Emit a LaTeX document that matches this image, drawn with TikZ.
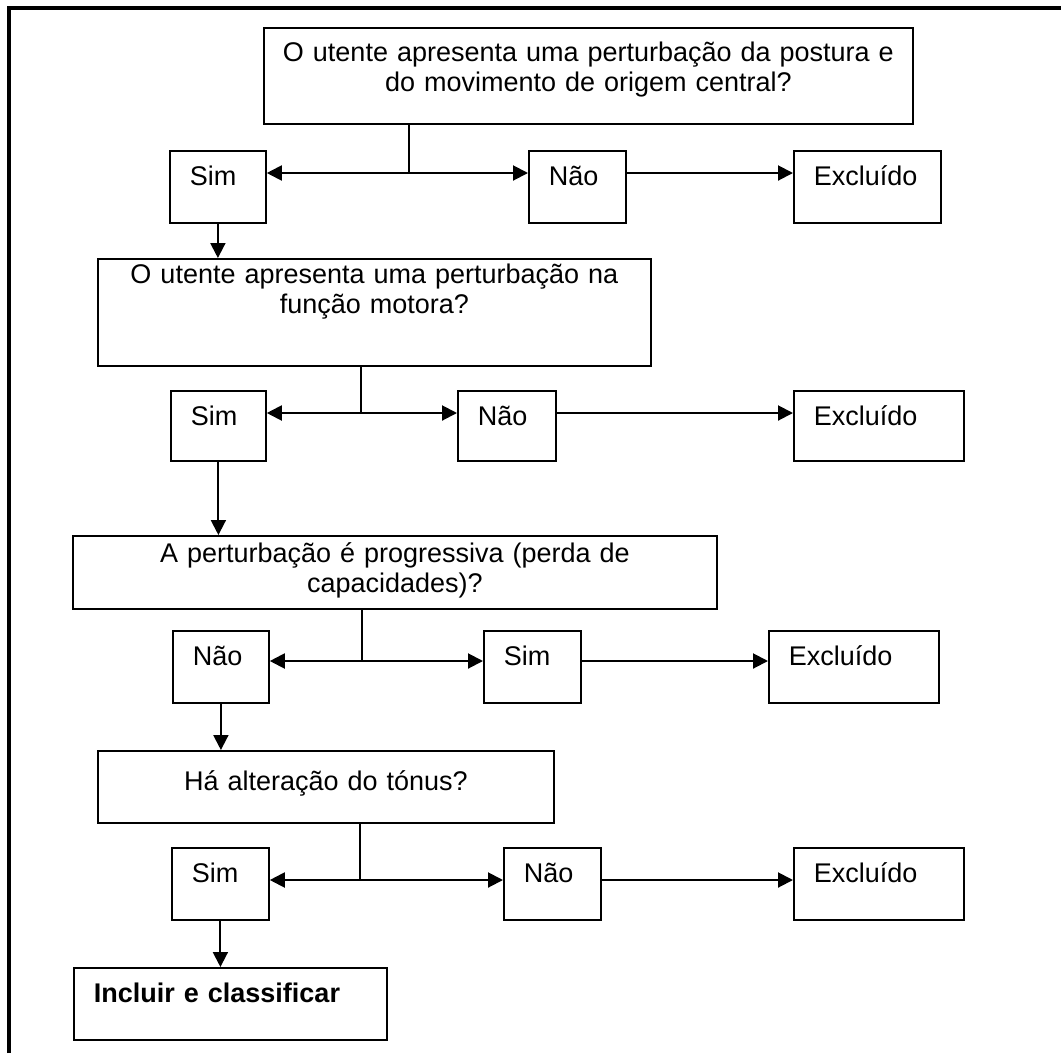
\documentclass[tikz,border=0pt]{standalone}
\usepackage{fontspec}
\setmainfont{Liberation Sans}
\usetikzlibrary{arrows.meta}

\begin{document}
\begin{tikzpicture}[x=1pt,y=-1pt,
        font=\fontsize{27}{30}\selectfont,
        caixa/.style 2 args={draw, line width=1.8pt, anchor=north west, align=left,
            inner xsep=20pt, inner ysep=0pt, text width=#1, text height=35pt, text depth=#2},
        pergunta/.style n args={3}{draw, line width=1.8pt, anchor=north west, align=center,
            inner sep=0pt, text width=#1, text height=#2, text depth=#3},
        seta/.style={line width=2pt, -{Triangle[length=15pt,width=15pt]}},
        traco/.style={line width=2pt}]
    \useasboundingbox (0,0) rectangle (1061,1053);

    % Moldura
    \draw[line width=3.5pt] (9,1053) -- (9,8) -- (1061,8);

    % Pergunta 1
    \node[pergunta={649pt}{34pt}{62pt}] (p1) at (263,27)
        {O utente apresenta uma perturbação da postura e\\do movimento de origem central?};
    \node[caixa={56pt}{37pt}] (sim1) at (169,150) {Sim};
    \node[caixa={57pt}{37pt}] (nao1) at (528,150) {Não};
    \node[caixa={107pt}{37pt}] (exc1) at (793,150) {Excluído};
    \coordinate (j1) at (409,173);
    \draw[traco] (p1.south -| j1) -- (j1);
    \draw[seta] (j1) -- (j1 -| sim1.east);
    \draw[seta] (j1) -- (j1 -| nao1.west);
    \draw[seta] (nao1.east |- j1) -- (j1 -| exc1.west);

    % Pergunta 2
    \node[pergunta={553pt}{25pt}{82pt}] (p2) at (97,258)
        {O utente apresenta uma perturbação na\\função motora?};
    \draw[seta] (sim1.south) -- (sim1.south |- p2.north);
    \node[caixa={55pt}{35pt}] (sim2) at (170,390) {Sim};
    \node[caixa={58pt}{35pt}] (nao2) at (457,390) {Não};
    \node[caixa={130pt}{35pt}] (exc2) at (793,390) {Excluído};
    \coordinate (j2) at (361,413);
    \draw[traco] (p2.south -| j2) -- (j2);
    \draw[seta] (j2) -- (j2 -| sim2.east);
    \draw[seta] (j2) -- (j2 -| nao2.west);
    \draw[seta] (nao2.east |- j2) -- (j2 -| exc2.west);

    % Pergunta 3
    \node[pergunta={644pt}{27pt}{46pt}] (p3) at (72,535)
        {A perturbação é progressiva (perda de\\capacidades)?};
    \draw[seta] (sim2.south) -- (sim2.south |- p3.north);
    \node[caixa={56pt}{37pt}] (nao3) at (172,630) {Não};
    \node[caixa={57pt}{37pt}] (sim3) at (483,630) {Sim};
    \node[caixa={130pt}{37pt}] (exc3) at (768,630) {Excluído};
    \coordinate (j3) at (362,661);
    \draw[traco] (p3.south -| j3) -- (j3);
    \draw[seta] (j3) -- (j3 -| nao3.east);
    \draw[seta] (j3) -- (j3 -| sim3.west);
    \draw[seta] (sim3.east |- j3) -- (j3 -| exc3.west);

    % Pergunta 4
    \node[pergunta={456pt}{40pt}{32pt}] (p4) at (97,750) {Há alteração do tónus?};
    \draw[seta] (nao3.south) -- (nao3.south |- p4.north);
    \node[caixa={57pt}{37pt}] (sim4) at (171,847) {Sim};
    \node[caixa={57pt}{37pt}] (nao4) at (503,847) {Não};
    \node[caixa={130pt}{37pt}] (exc4) at (793,847) {Excluído};
    \coordinate (j4) at (360,880);
    \draw[traco] (p4.south -| j4) -- (j4);
    \draw[seta] (j4) -- (j4 -| sim4.east);
    \draw[seta] (j4) -- (j4 -| nao4.west);
    \draw[seta] (nao4.east |- j4) -- (j4 -| exc4.west);

    % Resultado
    \node[caixa={273pt}{37pt}, font=\fontsize{27}{30}\selectfont\bfseries] (inc) at (73,967)
        {Incluir e classificar};
    \draw[seta] (sim4.south) -- (sim4.south |- inc.north);
\end{tikzpicture}
\end{document}
